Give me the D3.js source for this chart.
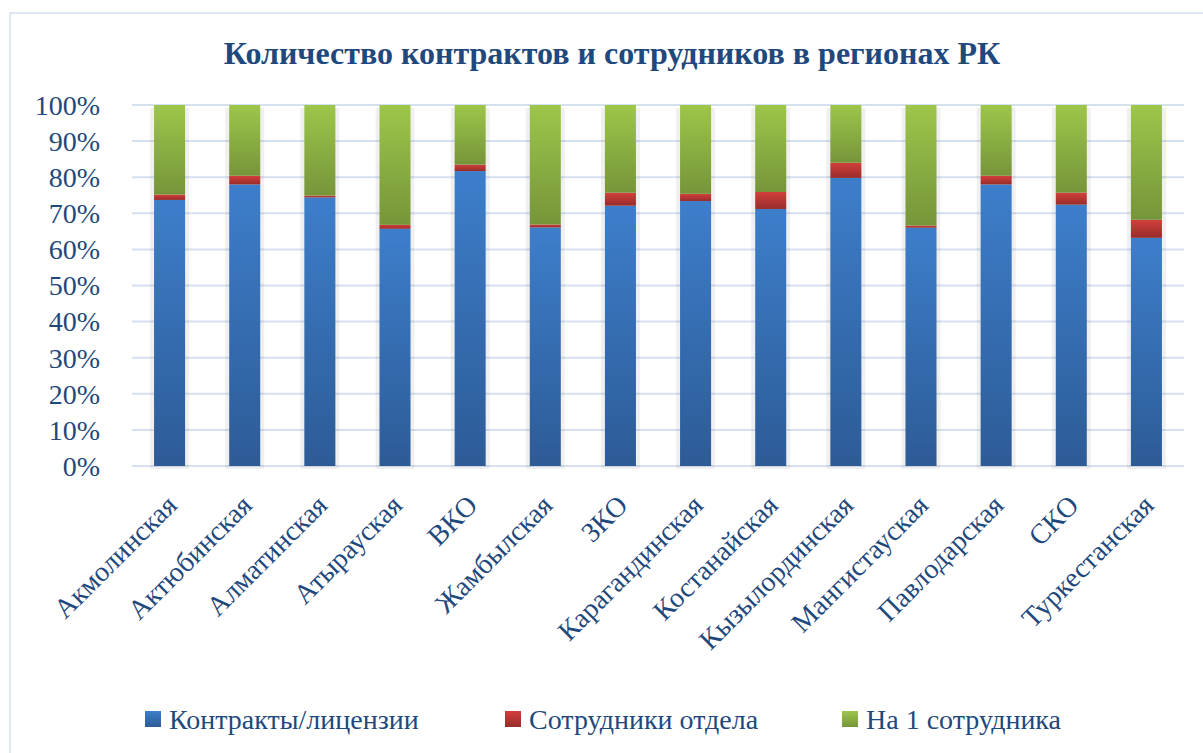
<!DOCTYPE html>
<html lang="ru">
  <head>
    <meta charset="UTF-8" />
    <title>Количество контрактов и сотрудников в регионах РК</title>
    <script src="https://d3js.org/d3.v7.min.js"></script>
    <style>
      body {
        margin: 0;
        background: #fff;
      }
    </style>
  </head>
  <body>
    <div id="chart"></div>
    <script>
      const regions = [
        "Акмолинская", "Актюбинская", "Алматинская", "Атырауская", "ВКО",
        "Жамбылская", "ЗКО", "Карагандинская", "Костанайская",
        "Кызылординская", "Мангистауская", "Павлодарская", "СКО", "Туркестанская",
      ];
      const seriesNames = ["Контракты/лицензии", "Сотрудники отдела", "На 1 сотрудника"];
      // shares in percent
      const contracts = [73.7, 78.0, 74.4, 65.7, 81.7, 66.1, 72.1, 73.4, 71.2, 79.8, 66.0, 78.0, 72.4, 63.2];
      const staff = [1.5, 2.4, 0.5, 1.1, 1.8, 0.8, 3.6, 2.0, 4.7, 4.2, 0.6, 2.4, 3.3, 5.0];
      const perStaff = [24.8, 19.6, 25.1, 33.2, 16.5, 33.1, 24.3, 24.6, 24.1, 16.0, 33.4, 19.6, 24.3, 31.8];
      const yTicks = [0, 10, 20, 30, 40, 50, 60, 70, 80, 90, 100];

      const W = 1203, H = 753;
      const margin = { top: 105, right: 19, bottom: 287, left: 132 };
      const FONT = '"Liberation Serif"';
      const INK = "#1f497d";

      const data = regions.map((r, i) => ({
        region: r,
        contracts: contracts[i],
        staff: staff[i],
        perStaff: perStaff[i],
      }));
      const keys = ["contracts", "staff", "perStaff"];
      const stack = d3.stack().keys(keys).offset(d3.stackOffsetExpand)(data);

      const svg = d3.select("#chart").append("svg")
        .attr("width", W).attr("height", H);

      const grads = [
        { id: "gBlue", top: "#3d7ecb", bottom: "#2d5b96" },
        { id: "gRed", top: "#d23f3c", bottom: "#972c2a" },
        { id: "gGreen", top: "#9dc64a", bottom: "#76953a" },
      ];
      const defs = svg.append("defs");
      grads.forEach((g) => {
        const lg = defs.append("linearGradient").attr("id", g.id)
          .attr("x1", 0).attr("y1", 0).attr("x2", 0).attr("y2", 1);
        lg.append("stop").attr("offset", "0%").attr("stop-color", g.top);
        lg.append("stop").attr("offset", "100%").attr("stop-color", g.bottom);
      });

      const label = (sel, size) =>
        sel.attr("fill", INK).style("font-family", FONT).style("font-size", size + "px");

      // chart frame
      svg.append("rect")
        .attr("x", 10).attr("y", 13).attr("width", W).attr("height", H)
        .attr("fill", "none").attr("stroke", "#d5e0ee").attr("stroke-width", 1.5);

      svg.append("text")
        .attr("x", 612).attr("y", 64)
        .attr("text-anchor", "middle")
        .call(label, 32)
        .style("font-weight", "bold")
        .text("Количество контрактов и сотрудников в регионах РК");

      const x = d3.scaleBand().domain(regions)
        .range([margin.left, W - margin.right])
        .paddingInner(0.587).paddingOuter(0.2935);
      const y = d3.scaleLinear().domain([0, 1]).range([H - margin.bottom, margin.top]);

      // gridlines
      svg.append("g").selectAll("line").data(yTicks).join("line")
        .attr("x1", margin.left).attr("x2", W - margin.right)
        .attr("y1", (d) => y(d / 100)).attr("y2", (d) => y(d / 100))
        .attr("stroke", "#d6e1f0").attr("stroke-width", 2);

      // y labels
      svg.append("g").selectAll("text").data(yTicks).join("text")
        .attr("x", 100).attr("y", (d) => y(d / 100))
        .attr("dy", "0.35em").attr("text-anchor", "end")
        .call(label, 28)
        .text((d) => d + "%");

      // bar shadows
      svg.append("g").selectAll("rect").data(regions).join("rect")
        .attr("x", (d) => x(d) - 4).attr("width", x.bandwidth() + 8)
        .attr("y", y(1) + 3).attr("height", y(0) - y(1))
        .attr("fill", "#000").attr("opacity", 0.06);

      svg.append("g").selectAll("g").data(stack).join("g")
        .attr("fill", (s, i) => `url(#${grads[i].id})`)
        .selectAll("rect").data((s) => s).join("rect")
        .attr("x", (d) => x(d.data.region))
        .attr("width", x.bandwidth())
        .attr("y", (d) => y(d[1]))
        .attr("height", (d) => y(d[0]) - y(d[1]));

      // category labels
      svg.append("g").selectAll("text").data(regions).join("text")
        .attr("transform", (d) => `translate(${x(d) + x.bandwidth() / 2 + 2},${y(0) + 34}) rotate(-45)`)
        .attr("text-anchor", "end").attr("dy", "0.35em")
        .call(label, 28)
        .text((d) => d);

      // legend
      const legendX = [145, 505, 842];
      const lg = svg.append("g").selectAll("g").data(seriesNames).join("g")
        .attr("transform", (d, i) => `translate(${legendX[i]},711)`);
      lg.append("rect").attr("width", 16).attr("height", 16)
        .attr("fill", (d, i) => `url(#${grads[i].id})`);
      lg.append("text").attr("x", 24).attr("y", 8).attr("dy", "0.35em")
        .call(label, 28)
        .text((d) => d);
    </script>
  </body>
</html>
